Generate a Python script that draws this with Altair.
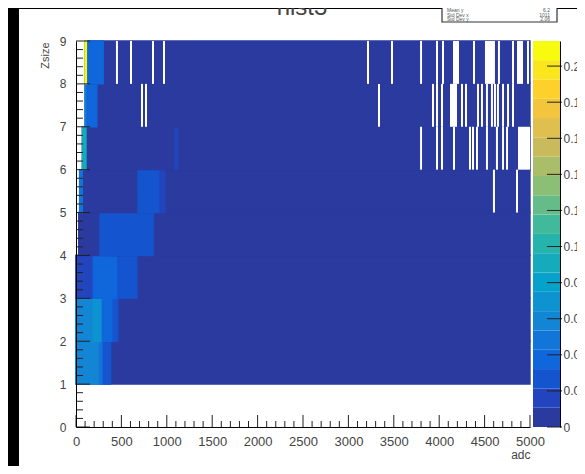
import altair as alt
import pandas as pd

# ---------------- data ----------------
ZMAX = 0.2139  # top of the colour bar
# contour band edges of the colour bar (20 levels)
BAND_EDGES = [0, 0.0107, 0.0214, 0.0321, 0.0428, 0.0535, 0.0642, 0.0749, 0.0856,
              0.0963, 0.107, 0.1177, 0.1284, 0.1391, 0.1498, 0.1605, 0.1712,
              0.1819, 0.1926, 0.2033, 0.2139]
PALETTE = ["#2a3a9f", "#2245bd", "#1554cf", "#1066db", "#1275d8", "#1385d5",
           "#0d93d0", "#07a2cb", "#15abbc", "#26b3ac", "#41b99b", "#66bc88",
           "#8bbf75", "#aabd69", "#c9bb5c", "#dfbf4d", "#f2c53c", "#fdd02c",
           "#fbe61d", "#f9fb0e"]

# filled cells per Zsize row (row lower edge -> (adc from, adc to, content))
heat_z1 = [(0, 5000, 0.005), (0, 260, 0.059), (260, 300, 0.048), (300, 380, 0.027)]
heat_z2 = [(0, 5000, 0.005), (0, 190, 0.059), (190, 290, 0.070), (290, 410, 0.037), (410, 460, 0.027)]
heat_z3 = [(0, 5000, 0.005), (0, 190, 0.016), (190, 460, 0.037), (460, 670, 0.027)]
heat_z4 = [(30, 5000, 0.005), (264, 850, 0.027)]
heat_z5 = [(40, 5000, 0.005), (40, 70, 0.048), (683, 925, 0.027), (925, 980, 0.016)]
heat_z6 = [(70, 5000, 0.005), (70, 110, 0.090), (1090, 1120, 0.016)]
heat_z7 = [(100, 5000, 0.005), (100, 120, 0.059), (120, 230, 0.037)]
heat_z8 = [(100, 5000, 0.005), (100, 130, 0.210), (130, 300, 0.037)]

# empty bins (white) per row: (adc from, adc to)
gap_z5 = [(4592, 4614), (4846, 4868)]
gap_z6 = [(3789, 3811), (3965, 3987), (4020, 4042), (4152, 4174), (4328, 4350),
          (4361, 4383), (4405, 4427), (4515, 4537), (4625, 4647), (4692, 4714),
          (4736, 4758), (4868, 5000)]
gap_z7 = [(716, 738), (760, 782), (3326, 3348), (3921, 3943), (3965, 3987),
          (4020, 4042), (4119, 4196), (4240, 4262), (4284, 4306), (4416, 4438),
          (4460, 4482), (4515, 4537), (4570, 4592), (4603, 4625), (4636, 4658),
          (4692, 4714), (4747, 4769), (4802, 4824)]
gap_z8 = [(440, 462), (595, 617), (837, 859), (958, 980), (3205, 3227),
          (3469, 3491), (3789, 3811), (3965, 3987), (4031, 4053), (4152, 4218),
          (4372, 4394), (4504, 4614), (4647, 4669), (4802, 4824), (4857, 4923),
          (4967, 4989)]

x_major = [0, 500, 1000, 1500, 2000, 2500, 3000, 3500, 4000, 4500, 5000]
x_minor = [100 * i for i in range(51) if i % 5]
y_major = [0, 1, 2, 3, 4, 5, 6, 7, 8, 9]
y_minor = [i / 5 for i in range(45) if i % 5]
z_ticks = [0, 0.02, 0.04, 0.06, 0.08, 0.1, 0.12, 0.14, 0.16, 0.18, 0.2]

stats_names = ["Mean y", "Std Dev x", "Std Dev y"]
stats_vals = ["6.2", "1011", "2.06"]

# ---------------- tables ----------------
heat_rows = {1: heat_z1, 2: heat_z2, 3: heat_z3, 4: heat_z4,
             5: heat_z5, 6: heat_z6, 7: heat_z7, 8: heat_z8}
gap_rows = {5: gap_z5, 6: gap_z6, 7: gap_z7, 8: gap_z8}
heat_df = pd.DataFrame([{"x0": a, "x1": b, "z0": z, "z1": z + 1, "v": v}
                        for z, segs in heat_rows.items() for a, b, v in segs])
gap_df = pd.DataFrame([{"x0": a, "x1": b, "z0": z, "z1": z + 1}
                       for z, segs in gap_rows.items() for a, b in segs])
band_df = pd.DataFrame({"lo": BAND_EDGES[:-1], "hi": BAND_EDGES[1:], "c": PALETTE})
stats_df = pd.DataFrame({"name": stats_names, "val": stats_vals, "i": [0, 1, 2]})

FONT = "Liberation Sans"
TXT = "#444444"
W, H = 454, 386

xs = alt.Scale(domain=[0, 5000], nice=False, zero=False)
ys = alt.Scale(domain=[0, 9], nice=False, zero=False)
zs = alt.Scale(domain=[0, ZMAX], nice=False, zero=False)
cs = alt.Scale(type="quantize", domain=[0, ZMAX], range=PALETTE, nice=False, zero=False)

XAXIS = alt.Axis(
    values=x_major, ticks=False, grid=False, domainColor="black", zindex=2,
    labelFont=FONT, labelFontSize=13, labelColor=TXT, labelPadding=8,
    labelFlush=False, labelOverlap=False, format="d",
    title="adc", titleX=W, titleY=31, titleAlign="right",
    titleBaseline="alphabetic", titleFont=FONT, titleFontSize=12,
    titleFontWeight="normal", titleColor=TXT)
YAXIS = alt.Axis(
    values=y_major, ticks=False, grid=False, domainColor="black", zindex=2,
    labelFont=FONT, labelFontSize=12, labelColor=TXT, labelPadding=10,
    labelFlush=False, labelOverlap=False, format="d",
    title="Zsize", titleX=-31, titleY=1, titleAngle=270, titleAlign="right",
    titleBaseline="middle", titleFont=FONT, titleFontSize=11,
    titleFontWeight="normal", titleColor=TXT)
ZAXIS = alt.Axis(
    orient="right", offset=30, values=z_ticks, format=".2~f", ticks=False,
    grid=False, domainColor="black", zindex=2, labelFont=FONT, labelFontSize=12,
    labelColor=TXT, labelPadding=3, labelFlush=False, labelOverlap=False,
    title=None)

one = alt.Data(values=[{}])

bg = alt.Chart(one).mark_rect(color="white").encode(
    x=alt.value(-57), x2=alt.value(560), y=alt.value(-32), y2=alt.value(480))

heat = alt.Chart(heat_df).mark_rect(strokeWidth=1.4).encode(
    x=alt.X("x0:Q", scale=xs, axis=XAXIS), x2="x1:Q",
    y=alt.Y("z0:Q", scale=ys, axis=YAXIS), y2="z1:Q",
    color=alt.Color("v:Q", scale=cs, legend=None),
    stroke=alt.Stroke("v:Q", scale=cs, legend=None),
)

gaps = alt.Chart(gap_df).mark_rect(color="white", strokeWidth=0).encode(
    x=alt.X("x0:Q", scale=xs, axis=XAXIS), x2="x1:Q",
    y=alt.Y("z0:Q", scale=ys, axis=YAXIS), y2="z1:Q")

def yticks(vals, length):
    return alt.Chart(pd.DataFrame({"x0": [0] * len(vals), "z0": vals})).mark_rule(
        color="#222", strokeWidth=1).encode(
        y=alt.Y("z0:Q", scale=ys, axis=YAXIS), x=alt.value(0), x2=alt.value(length))

def xticks(vals, length):
    return alt.Chart(pd.DataFrame({"x0": vals})).mark_rule(
        color="#222", strokeWidth=1).encode(
        x=alt.X("x0:Q", scale=xs, axis=XAXIS), y=alt.value(H), y2=alt.value(H - length))

title = alt.Chart(one).mark_text(text="hist3", font=FONT, fontSize=24, color=TXT,
                                  align="center", baseline="alphabetic").encode(
    x=alt.value(226), y=alt.value(-26))

stats_box = alt.Chart(one).mark_rect(fill="white", stroke="#333", strokeWidth=1.2).encode(
    x=alt.value(366), x2=alt.value(481), y=alt.value(-60), y2=alt.value(-19))

stats_name = alt.Chart(stats_df).mark_text(font=FONT, fontSize=5, color="#555",
                                            align="left", baseline="middle").encode(
    text="name:N", x=alt.value(371), y=alt.value(-26),
    yOffset=alt.YOffset("i:Q", scale=alt.Scale(domain=[0, 2], range=[-5, 4])))
stats_val = alt.Chart(stats_df).mark_text(font=FONT, fontSize=5, color="#555",
                                           align="right", baseline="middle").encode(
    text="val:N", x=alt.value(474), y=alt.value(-26),
    yOffset=alt.YOffset("i:Q", scale=alt.Scale(domain=[0, 2], range=[-5, 4])))

A = alt.layer(bg, heat, gaps,
              yticks(y_major, 14), yticks(y_minor, 7),
              xticks(x_major, 12), xticks(x_minor, 6),
              title, stats_box, stats_name, stats_val)

cbar = alt.Chart(band_df).mark_rect(strokeWidth=0).encode(
    y=alt.Y("lo:Q", scale=zs, axis=ZAXIS), y2="hi:Q",
    x=alt.value(457), x2=alt.value(484),
    color=alt.Color("c:N", scale=None),
)
cticks = alt.Chart(pd.DataFrame({"lo": z_ticks})).mark_rule(color="#222", strokeWidth=1).encode(
    y=alt.Y("lo:Q", scale=zs, axis=ZAXIS), x=alt.value(471), x2=alt.value(486))

B = alt.layer(cbar, cticks)

chart = alt.layer(A, B).resolve_scale(y="independent").properties(
    width=W, height=H,
    padding={"left": 68, "top": 33, "right": 47, "bottom": 39},
    autosize=alt.AutoSizeParams(type="none"),
    background="black",
).configure_view(stroke="black", strokeWidth=1)

chart.save("out.html", embed_options={"renderer": "svg", "actions": False})
